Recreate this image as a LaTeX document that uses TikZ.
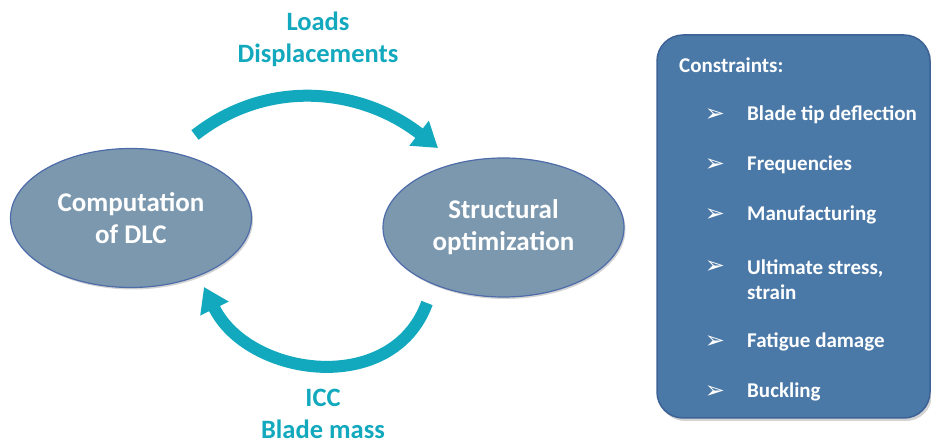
\documentclass[tikz,border=0pt]{standalone}
\usepackage{fontspec}
\setmainfont{Carlito}
\newfontfamily\dingfont{DejaVu Sans}
\usetikzlibrary{shapes.geometric}
\usetikzlibrary{arrows.meta}
\usetikzlibrary{shadows}
\definecolor{stagefill}{RGB}{123,152,174}
\definecolor{stageline}{RGB}{78,108,170}
\definecolor{flowcol}{RGB}{18,168,189}
\definecolor{panelfill}{RGB}{74,120,167}
\definecolor{panelline}{RGB}{60,98,150}
\tikzset{
	stage/.style = {ellipse, draw=stageline, fill=stagefill, line width=1.2pt,
		minimum width=241pt, minimum height=139pt, inner sep=0pt, align=center,
		text=white, font=\fontsize{27}{32}\selectfont\bfseries,
		drop shadow={shadow xshift=1.5pt, shadow yshift=-2pt, opacity=0.35}},% ellipse de calcul
	flow/.style = {line width=12pt, draw=flowcol,
		-{Triangle[length=24pt,width=30pt]}},% fleche de boucle
	flowlabel/.style = {text=flowcol, align=center, inner sep=0pt,
		font=\fontsize{26.5}{32}\selectfont\bfseries},
	panel/.style = {draw=panelline, fill=panelfill, line width=1.5pt,
		rounded corners=26pt,
		drop shadow={shadow xshift=2pt, shadow yshift=-3pt, opacity=0.35}},
	item/.style = {anchor=west, text=white, align=left, inner sep=0pt,
		font=\fontsize{21}{25}\selectfont\bfseries},
	tick/.style = {text=white, inner sep=0pt, font=\dingfont\fontsize{24}{24}\selectfont}
}
\begin{document}
\begin{tikzpicture}[x=1pt,y=1pt]
	\useasboundingbox (0,0) rectangle (931,444);
	% les deux etapes
	\node [stage] (dlc) at (131,226) {Computation\\of DLC};
	\node [stage] (opt) at (503.5,216.5) {Structural\\optimization};
	% fleches
	\coordinate (up_a) at (195,309);
	\coordinate (up_b) at (438,296);
	\coordinate (lo_a) at (427,141);
	\coordinate (lo_b) at (204,157);
	\draw [flow] (up_a) to[out=38,in=142] (up_b);
	\draw [flow] (lo_a) to[out=-110,in=-64,looseness=1.15] (lo_b);
	\node [flowlabel] (lbl_up) at (318,405) {Loads\\Displacements};
	\node [flowlabel] (lbl_lo) at (323,30) {ICC\\Blade mass};
	% contraintes
	\node [panel, minimum width=273pt, minimum height=383pt] (box) at (793.5,217.5) {};
	\node [item] (cons) at (679,379) {Constraints:};
	\foreach \y/\txt [count=\i] in {329/Blade tip deflection, 279/Frequencies,
			229/Manufacturing, 164.5/{Ultimate stress,\\strain},
			102/Fatigue damage, 52/Buckling}{
		\node [item] (c\i) at (747,\y) {\txt};
	}
	\foreach \y [count=\i] in {329,279,229,177,102,52}
		\node [tick] (b\i) at (715,\y) {➢};
\end{tikzpicture}
\end{document}
